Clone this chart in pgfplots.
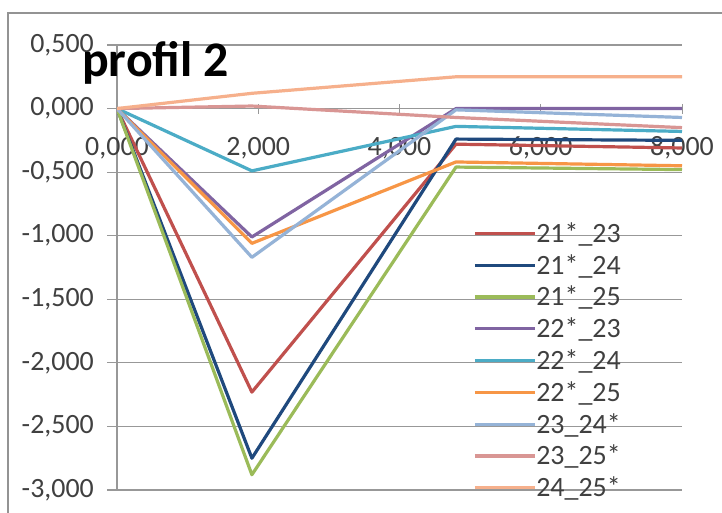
\documentclass[border=0pt]{standalone}
\usepackage{fontspec}
\setmainfont{Carlito}
\usepackage{pgfplots}
\pgfplotsset{compat=1.18}

\definecolor{sA}{HTML}{C0504D}
\definecolor{sB}{HTML}{1F497D}
\definecolor{sC}{HTML}{9BBB59}
\definecolor{sD}{HTML}{8064A2}
\definecolor{sE}{HTML}{4BACC6}
\definecolor{sF}{HTML}{F79646}
\definecolor{sG}{HTML}{95B3D7}
\definecolor{sH}{HTML}{D99694}
\definecolor{sI}{HTML}{F6B08C}
\definecolor{gridgray}{HTML}{989898}
\definecolor{labgray}{HTML}{404040}

\begin{document}
\begin{tikzpicture}
\useasboundingbox (0,0) rectangle (722bp,513bp);
\fill[white] (0,0) rectangle (722bp,513bp);
% chart frame (cropped)
\draw[gray!85, line width=1.5bp] (8bp,0) -- (8bp,500bp) -- (722bp,500bp);

\begin{axis}[
  at={(117bp,23bp)}, anchor=south west,
  scale only axis, width=565bp, height=445bp,
  xmin=0, xmax=8, ymin=-3, ymax=0.5,
  axis x line*=middle, axis y line*=left,
  hide obscured x ticks=false, hide obscured y ticks=false,
  xtick={0,2,4,6,8},
  ytick={-3,-2.5,-2,-1.5,-1,-0.5,0,0.5},
  ymajorgrids,
  grid style={gridgray, line width=1.2bp},
  axis line style={gridgray, line width=1.3bp},
  ytick style={gridgray, line width=1.2bp},
  xtick style={gridgray, line width=1bp},
  ytick align=outside, major tick length=10bp,
  xtick align=center,
  tick label style={font=\fontsize{28}{30}\selectfont, text=labgray},
  /pgf/number format/.cd, fixed, fixed zerofill, precision=3, use comma, assume math mode=true,
  /pgfplots/.cd,
  yticklabel style={anchor=east, inner sep=0pt, xshift=-13bp},
  xticklabel style={anchor=base, inner sep=0pt, yshift=-42bp},
  legend cell align=left,
  legend style={at={(axis cs:5.04,-0.855)}, anchor=north west,
    draw=none, fill=none, inner sep=0pt, row sep=0pt,
    font=\fontsize{28}{30}\selectfont, text=labgray,
    nodes={inner sep=0pt, text height=24.8bp, text depth=7bp},
    /tikz/every even column/.append style={column sep=4bp}},
  legend image code/.code={\draw[#1] (0bp,0bp) -- (60bp,0bp);},
  every axis plot/.append style={line width=3.2bp, line join=round},
]
\addplot[sA] coordinates {(0,0) (1.91,-2.23) (4.8,-0.28) (8,-0.31)};
\addlegendentry{21*\_23}
\addplot[sB] coordinates {(0,0) (1.91,-2.75) (4.8,-0.24) (8,-0.25)};
\addlegendentry{21*\_24}
\addplot[sC] coordinates {(0,0) (1.91,-2.88) (4.8,-0.46) (8,-0.48)};
\addlegendentry{21*\_25}
\addplot[sD] coordinates {(0,0) (1.91,-1.01) (4.8,0.00) (8,0.00)};
\addlegendentry{22*\_23}
\addplot[sE] coordinates {(0,0) (1.91,-0.49) (4.8,-0.14) (8,-0.18)};
\addlegendentry{22*\_24}
\addplot[sF] coordinates {(0,0) (1.91,-1.06) (4.8,-0.42) (8,-0.45)};
\addlegendentry{22*\_25}
\addplot[sG] coordinates {(0,0) (1.91,-1.17) (4.8,-0.01) (8,-0.07)};
\addlegendentry{23\_24*}
\addplot[sH] coordinates {(0,0) (1.91,0.02) (4.8,-0.07) (8,-0.15)};
\addlegendentry{23\_25*}
\addplot[sI] coordinates {(0,0) (1.91,0.12) (4.8,0.25) (8,0.25)};
\addlegendentry{24\_25*}
\end{axis}

\node[anchor=base west, inner sep=0pt, font=\bfseries\fontsize{50}{60}\selectfont] at (82bp,436bp) {profil 2};
\end{tikzpicture}
\end{document}
